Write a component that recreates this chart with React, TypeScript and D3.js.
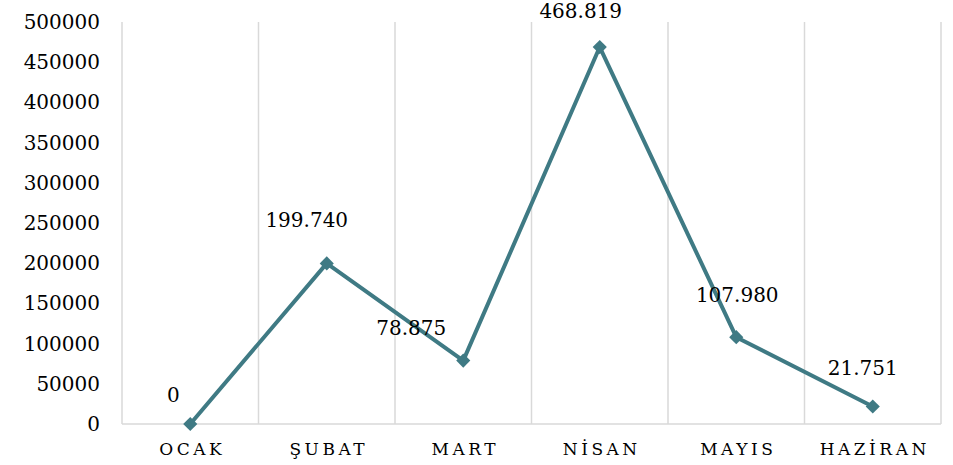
import React, { useEffect, useRef } from 'react';
import * as d3 from 'd3';

const months = ["OCAK", "ŞUBAT", "MART", "NİSAN", "MAYIS", "HAZİRAN"];
const values = [0, 199740, 78875, 468819, 107980, 21751];
const valueLabels = ["0", "199.740", "78.875", "468.819", "107.980", "21.751"];
const yTicks = [0, 50000, 100000, 150000, 200000, 250000, 300000, 350000, 400000, 450000, 500000];
// where Excel put each data label, relative to its point
const labelOffsets = [[-17, -29], [-20, -43], [-52, -33], [-19, -36], [1, -42], [-10, -39]];

const width = 953;
const height = 465;
const margin = { top: 22, right: 12, bottom: 41, left: 122 };
const font = "'DejaVu Serif', serif";

const App = () => {
    const wrapper = useRef<SVGSVGElement | null>(null);

    useEffect(() => {
        const svg = d3.select(wrapper.current);
        svg.selectAll("*").remove();

        const x = d3.scaleBand()
            .domain(months)
            .range([margin.left, width - margin.right]);

        const y = d3.scaleLinear()
            .domain([0, 500000])
            .range([height - margin.bottom, margin.top]);

        // vertical gridlines on category boundaries
        const bounds = months.map(m => x(m)!).concat([x.range()[1]]);
        svg.append("g")
            .selectAll("line")
            .data(bounds)
            .join("line")
                .attr("x1", d => d)
                .attr("x2", d => d)
                .attr("y1", y(500000))
                .attr("y2", y(0))
                .attr("stroke", "#d9d9d9")
                .attr("stroke-width", 1.5);

        svg.append("line")
            .attr("x1", x.range()[0])
            .attr("x2", x.range()[1])
            .attr("y1", y(0))
            .attr("y2", y(0))
            .attr("stroke", "#d9d9d9")
            .attr("stroke-width", 1.5);

        svg.append("g")
            .selectAll("text")
            .data(yTicks)
            .join("text")
                .attr("x", 100)
                .attr("y", d => y(d))
                .attr("dy", "0.35em")
                .attr("text-anchor", "end")
                .style("font-family", font)
                .style("font-size", "20px")
                .attr("fill", "#000")
                .text(d => d);

        svg.append("g")
            .selectAll("text")
            .data(months)
            .join("text")
                .attr("x", d => x(d)! + x.bandwidth() / 2 + 2)
                .attr("y", height - 10)
                .attr("text-anchor", "middle")
                .style("font-family", font)
                .style("font-size", "17px")
                .style("letter-spacing", "3.5px")
                .attr("fill", "#000")
                .text(d => d);

        const cx = (i: number) => x(months[i])! + x.bandwidth() / 2;

        const line = d3.line<number>()
            .x((d, i) => cx(i))
            .y(d => y(d));

        svg.append("path")
            .datum(values)
            .attr("d", line)
            .attr("fill", "none")
            .attr("stroke", "#3f7a84")
            .attr("stroke-width", 4)
            .attr("stroke-linejoin", "round");

        svg.append("g")
            .selectAll("path")
            .data(values)
            .join("path")
                .attr("d", d3.symbol(d3.symbolSquare, 100))
                .attr("transform", (d, i) => `translate(${cx(i)},${y(d)}) rotate(45)`)
                .attr("fill", "#3f7a84");

        svg.append("g")
            .selectAll("text")
            .data(values)
            .join("text")
                .attr("x", (d, i) => cx(i) + labelOffsets[i][0])
                .attr("y", (d, i) => y(d) + labelOffsets[i][1])
                .attr("dy", "0.35em")
                .attr("text-anchor", "middle")
                .style("font-family", font)
                .style("font-size", "20px")
                .attr("fill", "#000")
                .text((d, i) => valueLabels[i]);
    }, []);

    return (
        <svg ref={wrapper} width={width} height={height}
            style={{ position: "absolute", left: 0, top: 0, background: "#fff" }} />
    );
};

export default App;
